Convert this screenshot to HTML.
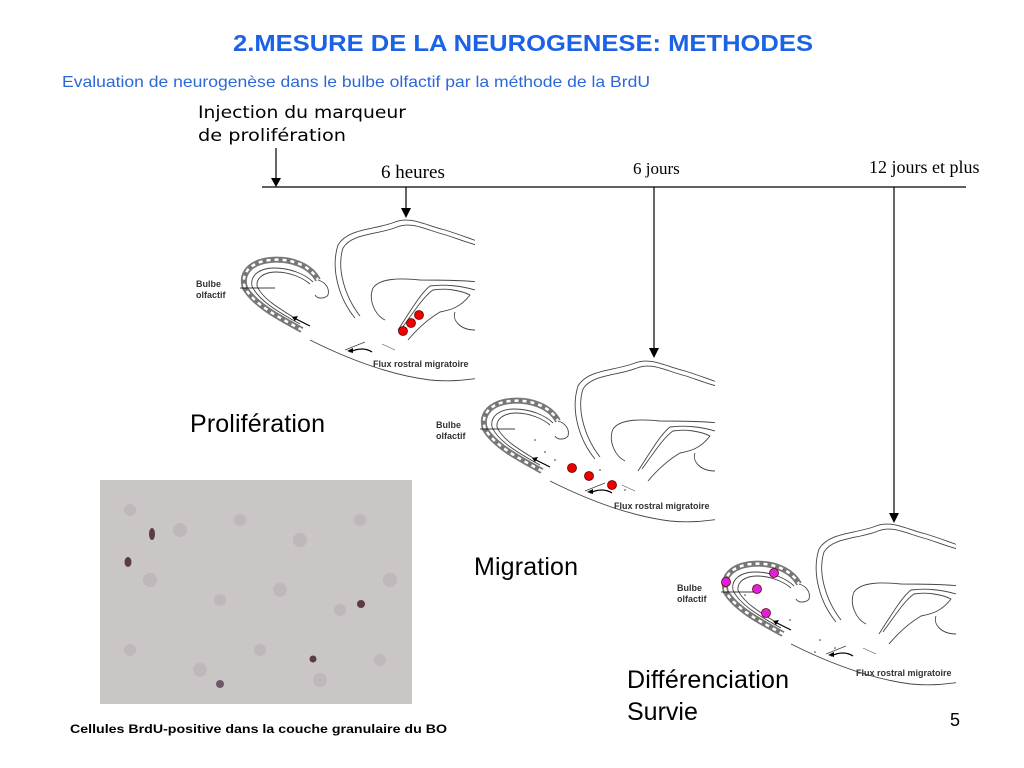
<!DOCTYPE html>
<html><head><meta charset="utf-8"><style>
body{margin:0;width:1024px;height:768px;background:#fff;overflow:hidden}
svg{display:block}
</style></head><body>
<svg width="1024" height="768" viewBox="0 0 1024 768" xmlns="http://www.w3.org/2000/svg">
<defs>
<clipPath id="cp"><rect x="0" y="0" width="285" height="185"/></clipPath>
<g id="brain" fill="none" stroke="#444" stroke-width="0.9">
<g clip-path="url(#cp)">
<path d="M165,118 C150,100 140,70 148,45 C158,28 185,30 205,22 C220,16 235,25 255,30 C268,34 278,38 290,42"/>
<path d="M170,116 C156,98 146,70 153,48 C162,33 188,35 207,27 C222,21 236,30 256,35 C268,39 278,43 290,46"/>
<path d="M112,130 C90,118 65,105 55,88 C50,72 62,62 80,60 C100,58 120,65 128,80" stroke="#777" stroke-width="6"/>
<path d="M112,130 C90,118 65,105 55,88 C50,72 62,62 80,60 C100,58 120,65 128,80" stroke="#fff" stroke-width="2.5" stroke-dasharray="4 4"/>
<path d="M110,124 C88,112 68,100 62,86 C60,75 70,68 84,68 C100,68 115,74 123,82"/>
<path d="M108,120 C88,108 72,98 67,86 C66,78 74,72 86,72 C100,72 113,78 120,84"/>
<path d="M128,80 C135,82 140,88 138,95 C136,98 128,100 125,95"/>
<path d="M120,140 C160,160 200,175 240,180 C260,182 275,180 290,178"/>
<path d="M183,88 C190,78 210,78 230,80 C250,80 270,80 290,82"/>
<path d="M183,88 C178,100 185,115 195,120"/>
<path d="M212,128 C225,110 235,95 243,90 C255,88 270,90 280,95 C270,108 260,110 250,112 C240,118 228,128 218,140"/>
<path d="M208,130 C222,108 232,92 240,86 C255,84 272,86 285,90"/>
<path d="M265,112 C262,120 270,130 285,130"/>
<path d="M155,150 L175,142"/>
<path d="M104,118 L120,126" stroke="#000" stroke-width="1.2"/>
<path d="M102,117 l6,-1 l-3,5 z" fill="#000" stroke="none"/>
<path d="M160,152 C168,148 176,148 182,152" stroke="#000" stroke-width="1.3"/>
<path d="M157,151 l6,-3 l0,5 z" fill="#000" stroke="none"/>
<path d="M192,144 L205,150" stroke="#555" stroke-width="0.6"/>
<path d="M50,88 L85,88" stroke="#000" stroke-width="0.8"/>
</g>
</g>
</defs>

<text x="233" y="51" font-family="Liberation Sans,sans-serif" font-weight="bold" font-size="23" fill="#1b62e6" textLength="580" lengthAdjust="spacingAndGlyphs">2.MESURE DE LA NEUROGENESE: METHODES</text>
<text x="62" y="87" font-family="Liberation Sans,sans-serif" font-size="16" fill="#2c67d8" textLength="588" lengthAdjust="spacingAndGlyphs">Evaluation de neurogenèse dans le bulbe olfactif par la méthode de la BrdU</text>
<text x="198" y="118" font-family="DejaVu Sans,sans-serif" font-size="17" fill="#000" textLength="208" lengthAdjust="spacingAndGlyphs">Injection du marqueur</text>
<text x="198" y="141" font-family="DejaVu Sans,sans-serif" font-size="17" fill="#000" textLength="148" lengthAdjust="spacingAndGlyphs">de prolifération</text>
<text x="381" y="178" font-family="Liberation Serif,serif" font-size="19" fill="#000">6 heures</text>
<text x="633" y="174" font-family="Liberation Serif,serif" font-size="17" fill="#000">6 jours</text>
<text x="869" y="173" font-family="Liberation Serif,serif" font-size="18" fill="#000">12 jours et plus</text>

<line x1="262" y1="187" x2="966" y2="187" stroke="#000" stroke-width="1.3"/>
<g stroke="#000" stroke-width="1.2">
<line x1="276" y1="148" x2="276" y2="180"/><line x1="406" y1="187" x2="406" y2="210"/>
<line x1="654" y1="187" x2="654" y2="350"/><line x1="894" y1="187" x2="894" y2="515"/>
</g>
<g fill="#000">
<path d="M271,178 L281,178 L276,187Z"/><path d="M401,208 L411,208 L406,218Z"/>
<path d="M649,348 L659,348 L654,358Z"/><path d="M889,513 L899,513 L894,523Z"/>
</g>

<use href="#brain" x="190" y="200"/>
<use href="#brain" x="430" y="341"/>
<use href="#brain" x="671" y="504"/>

<g font-family="Liberation Sans,sans-serif" font-weight="bold" font-size="9" fill="#333">
<text x="196" y="287">Bulbe</text><text x="196" y="298">olfactif</text>
<text x="373" y="367">Flux rostral migratoire</text>
<text x="436" y="428">Bulbe</text><text x="436" y="439">olfactif</text>
<text x="614" y="509">Flux rostral migratoire</text>
<text x="677" y="591">Bulbe</text><text x="677" y="602">olfactif</text>
<text x="856" y="676">Flux rostral migratoire</text>
</g>

<g fill="#e00" stroke="#600" stroke-width="0.8">
<circle cx="403" cy="331" r="4.5"/><circle cx="411" cy="323" r="4.5"/><circle cx="419" cy="315" r="4.5"/>
<circle cx="572" cy="468" r="4.5"/><circle cx="589" cy="476" r="4.5"/><circle cx="612" cy="485" r="4.5"/>
</g>
<g fill="#e020e0" stroke="#600" stroke-width="0.8">
<circle cx="726" cy="582" r="4.5"/><circle cx="774" cy="573" r="4.5"/><circle cx="757" cy="589" r="4.5"/><circle cx="766" cy="613" r="4.5"/>
</g>
<g fill="#333">
<circle cx="545" cy="452" r="0.8"/><circle cx="555" cy="460" r="0.8"/><circle cx="535" cy="440" r="0.8"/><circle cx="600" cy="470" r="0.8"/><circle cx="625" cy="490" r="0.8"/>
<circle cx="820" cy="640" r="0.8"/><circle cx="835" cy="648" r="0.8"/><circle cx="815" cy="652" r="0.8"/><circle cx="790" cy="620" r="0.8"/><circle cx="745" cy="595" r="0.8"/>
</g>

<text x="190" y="432" font-family="Liberation Sans,sans-serif" font-size="25" fill="#000" textLength="135">Prolifération</text>
<text x="474" y="575" font-family="Liberation Sans,sans-serif" font-size="25" fill="#000" textLength="104">Migration</text>
<text x="627" y="688" font-family="Liberation Sans,sans-serif" font-size="25" fill="#000" textLength="162">Différenciation</text>
<text x="627" y="720" font-family="Liberation Sans,sans-serif" font-size="25" fill="#000">Survie</text>
<text x="950" y="726" font-family="Liberation Sans,sans-serif" font-size="18" fill="#000">5</text>

<rect x="100" y="480" width="312" height="224" fill="#cbc6c6"/>
<g fill="#b9b2b8" opacity="0.7">
<circle cx="130" cy="510" r="6"/><circle cx="180" cy="530" r="7"/><circle cx="240" cy="520" r="6"/><circle cx="300" cy="540" r="7"/><circle cx="360" cy="520" r="6"/>
<circle cx="150" cy="580" r="7"/><circle cx="220" cy="600" r="6"/><circle cx="280" cy="590" r="7"/><circle cx="340" cy="610" r="6"/><circle cx="390" cy="580" r="7"/>
<circle cx="130" cy="650" r="6"/><circle cx="200" cy="670" r="7"/><circle cx="260" cy="650" r="6"/><circle cx="320" cy="680" r="7"/><circle cx="380" cy="660" r="6"/>
</g>
<g fill="#5a3c46">
<ellipse cx="152" cy="534" rx="3" ry="6"/><ellipse cx="128" cy="562" rx="3.5" ry="5"/><circle cx="361" cy="604" r="4"/><circle cx="313" cy="659" r="3.5"/><circle cx="220" cy="684" r="4" fill="#6a5a66"/>
</g>
<text x="70" y="733" font-family="Liberation Sans,sans-serif" font-weight="bold" font-size="12" fill="#000" textLength="377" lengthAdjust="spacingAndGlyphs">Cellules BrdU-positive dans la couche granulaire du BO</text>
</svg>
</body></html>
